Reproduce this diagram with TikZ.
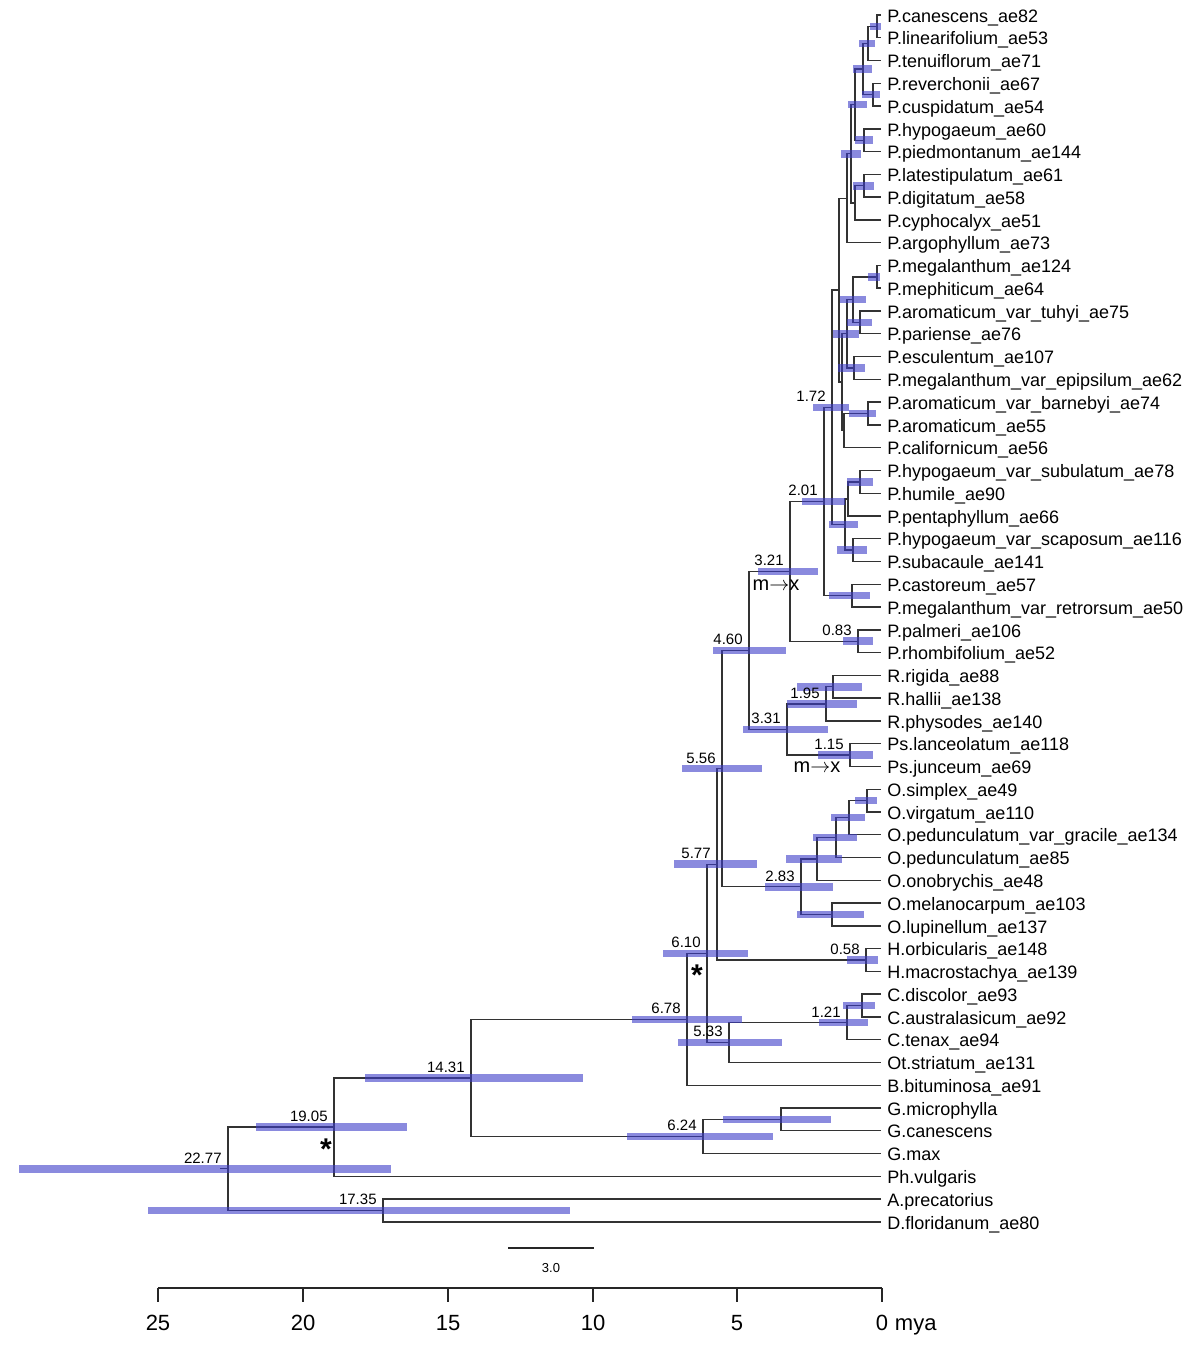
\documentclass[tikz,border=0pt]{standalone}
\usepackage{fontspec}
\setmainfont{Liberation Sans}
\usepackage{xcolor}
\usepackage{tikz}
\usetikzlibrary{positioning}
\definecolor{hpdblue}{RGB}{60,60,200}

\begin{document}
\begin{tikzpicture}
	[x=0.5pt, y=-0.5pt,
	 branch/.style = {draw=black!80, line width=0.7pt},
	 hpdbar/.style = {draw=hpdblue, opacity=0.6, line width=3.8pt},
	 tip/.style = {anchor=west, inner xsep=3pt, inner ysep=0pt, text height=0.72em, text depth=0pt, font=\fontsize{9}{10}\selectfont},
	 age/.style = {anchor=south east, inner sep=0pt, xshift=-3pt, yshift=2.5pt, font=\fontsize{7.5}{8}\selectfont},
	 mtox/.style = {inner sep=0pt, font=\fontsize{10}{11}\selectfont},
	 sigstar/.style = {anchor=base, inner sep=0pt, font=\fontsize{15}{16}\selectfont\bfseries},
	 axisline/.style = {draw=black!85, line width=1.2pt},
	 axislabel/.style = {inner sep=0pt, font=\fontsize{11}{12}\selectfont}]
	\useasboundingbox (0,0) rectangle (1200,1363);

	% tips
	\node[tip] (t1) at (881,15.0) {P.canescens\_ae82};
	\node[tip] (t2) at (881,37.8) {P.linearifolium\_ae53};
	\node[tip] (t3) at (881,60.5) {P.tenuiflorum\_ae71};
	\node[tip] (t4) at (881,83.3) {P.reverchonii\_ae67};
	\node[tip] (t5) at (881,106.1) {P.cuspidatum\_ae54};
	\node[tip] (t6) at (881,128.9) {P.hypogaeum\_ae60};
	\node[tip] (t7) at (881,151.6) {P.piedmontanum\_ae144};
	\node[tip] (t8) at (881,174.4) {P.latestipulatum\_ae61};
	\node[tip] (t9) at (881,197.2) {P.digitatum\_ae58};
	\node[tip] (t10) at (881,219.9) {P.cyphocalyx\_ae51};
	\node[tip] (t11) at (881,242.7) {P.argophyllum\_ae73};
	\node[tip] (t12) at (881,265.5) {P.megalanthum\_ae124};
	\node[tip] (t13) at (881,288.2) {P.mephiticum\_ae64};
	\node[tip] (t14) at (881,311.0) {P.aromaticum\_var\_tuhyi\_ae75};
	\node[tip] (t15) at (881,333.8) {P.pariense\_ae76};
	\node[tip] (t16) at (881,356.6) {P.esculentum\_ae107};
	\node[tip] (t17) at (881,379.3) {P.megalanthum\_var\_epipsilum\_ae62};
	\node[tip] (t18) at (881,402.1) {P.aromaticum\_var\_barnebyi\_ae74};
	\node[tip] (t19) at (881,424.9) {P.aromaticum\_ae55};
	\node[tip] (t20) at (881,447.6) {P.californicum\_ae56};
	\node[tip] (t21) at (881,470.4) {P.hypogaeum\_var\_subulatum\_ae78};
	\node[tip] (t22) at (881,493.2) {P.humile\_ae90};
	\node[tip] (t23) at (881,516.0) {P.pentaphyllum\_ae66};
	\node[tip] (t24) at (881,538.7) {P.hypogaeum\_var\_scaposum\_ae116};
	\node[tip] (t25) at (881,561.5) {P.subacaule\_ae141};
	\node[tip] (t26) at (881,584.3) {P.castoreum\_ae57};
	\node[tip] (t27) at (881,607.0) {P.megalanthum\_var\_retrorsum\_ae50};
	\node[tip] (t28) at (881,629.8) {P.palmeri\_ae106};
	\node[tip] (t29) at (881,652.6) {P.rhombifolium\_ae52};
	\node[tip] (t30) at (881,675.3) {R.rigida\_ae88};
	\node[tip] (t31) at (881,698.1) {R.hallii\_ae138};
	\node[tip] (t32) at (881,720.9) {R.physodes\_ae140};
	\node[tip] (t33) at (881,743.6) {Ps.lanceolatum\_ae118};
	\node[tip] (t34) at (881,766.4) {Ps.junceum\_ae69};
	\node[tip] (t35) at (881,789.2) {O.simplex\_ae49};
	\node[tip] (t36) at (881,812.0) {O.virgatum\_ae110};
	\node[tip] (t37) at (881,834.7) {O.pedunculatum\_var\_gracile\_ae134};
	\node[tip] (t38) at (881,857.5) {O.pedunculatum\_ae85};
	\node[tip] (t39) at (881,880.3) {O.onobrychis\_ae48};
	\node[tip] (t40) at (881,903.0) {O.melanocarpum\_ae103};
	\node[tip] (t41) at (881,925.8) {O.lupinellum\_ae137};
	\node[tip] (t42) at (881,948.6) {H.orbicularis\_ae148};
	\node[tip] (t43) at (881,971.3) {H.macrostachya\_ae139};
	\node[tip] (t44) at (881,994.1) {C.discolor\_ae93};
	\node[tip] (t45) at (881,1016.9) {C.australasicum\_ae92};
	\node[tip] (t46) at (881,1039.7) {C.tenax\_ae94};
	\node[tip] (t47) at (881,1062.4) {Ot.striatum\_ae131};
	\node[tip] (t48) at (881,1085.2) {B.bituminosa\_ae91};
	\node[tip] (t49) at (881,1108.0) {G.microphylla};
	\node[tip] (t50) at (881,1130.7) {G.canescens};
	\node[tip] (t51) at (881,1153.5) {G.max};
	\node[tip] (t52) at (881,1176.3) {Ph.vulgaris};
	\node[tip] (t53) at (881,1199.0) {A.precatorius};
	\node[tip] (t54) at (881,1221.8) {D.floridanum\_ae80};

	% internal nodes
	\coordinate (n1to2) at (877,26.4);
	\coordinate (n1to3) at (868,43.45);
	\coordinate (n4to5) at (873,94.7);
	\coordinate (n1to5) at (863,69.1);
	\coordinate (n6to7) at (864,140.25);
	\coordinate (n1to7) at (855,104.7);
	\coordinate (n8to9) at (864,185.8);
	\coordinate (n8to10) at (855,202.85);
	\coordinate (n1to10) at (851,153.8);
	\coordinate (n1to11) at (847,198.25);
	\coordinate (n12to13) at (877,276.85);
	\coordinate (n14to15) at (860,322.4);
	\coordinate (n12to15) at (853,299.6);
	\coordinate (n16to17) at (854,367.95);
	\coordinate (n12to17) at (847,333.8);
	\coordinate (n18to19) at (868,413.5);
	\coordinate (n18to20) at (844,430.55);
	\coordinate (n12to20) at (842,382.2);
	\coordinate (n1to20) at (839,290.2);
	\coordinate (n21to22) at (860,481.8);
	\coordinate (n21to23) at (848,498.9);
	\coordinate (n24to25) at (853,550.1);
	\coordinate (n21to25) at (845,524.5);
	\coordinate (d172) at (832,407.35);
	\coordinate (n26to27) at (852,595.65);
	\coordinate (d201) at (824,501.5);
	\coordinate (d083) at (858,641.2);
	\coordinate (d321) at (790,571.35);
	\coordinate (n30to31) at (833,686.7);
	\coordinate (d195) at (826,703.8);
	\coordinate (d115) at (850,755);
	\coordinate (d331) at (787,729.4);
	\coordinate (d460) at (749,650.4);
	\coordinate (n35to36) at (867,800.6);
	\coordinate (n35to37) at (849,817.65);
	\coordinate (n35to38) at (836,837.6);
	\coordinate (n35to39) at (817,858.95);
	\coordinate (n40to41) at (832,914.4);
	\coordinate (d283) at (801,886.7);
	\coordinate (d556) at (722,768.55);
	\coordinate (d058) at (866,959.95);
	\coordinate (d577) at (717,864.25);
	\coordinate (n44to45) at (862,1005.5);
	\coordinate (d121) at (847,1022.6);
	\coordinate (d533) at (729,1042.5);
	\coordinate (d610) at (707,953.4);
	\coordinate (d678) at (687,1019.3);
	\coordinate (n49to50) at (781,1119.35);
	\coordinate (d624) at (703,1136.4);
	\coordinate (d1431) at (471,1077.85);
	\coordinate (d1905) at (334,1127.1);
	\coordinate (d1735) at (383,1210.4);
	\coordinate (d2277) at (228,1168.75);
	\coordinate (rootstem) at (220,1168.75);

	% branches
	\draw[branch] (t1.west) -| (n1to2) |- (t2.west);
	\draw[branch] (n1to2) -| (n1to3) |- (t3.west);
	\draw[branch] (t4.west) -| (n4to5) |- (t5.west);
	\draw[branch] (n1to3) -| (n1to5) |- (n4to5);
	\draw[branch] (t6.west) -| (n6to7) |- (t7.west);
	\draw[branch] (n1to5) -| (n1to7) |- (n6to7);
	\draw[branch] (t8.west) -| (n8to9) |- (t9.west);
	\draw[branch] (n8to9) -| (n8to10) |- (t10.west);
	\draw[branch] (n1to7) -| (n1to10) |- (n8to10);
	\draw[branch] (n1to10) -| (n1to11) |- (t11.west);
	\draw[branch] (t12.west) -| (n12to13) |- (t13.west);
	\draw[branch] (t14.west) -| (n14to15) |- (t15.west);
	\draw[branch] (n12to13) -| (n12to15) |- (n14to15);
	\draw[branch] (t16.west) -| (n16to17) |- (t17.west);
	\draw[branch] (n12to15) -| (n12to17) |- (n16to17);
	\draw[branch] (t18.west) -| (n18to19) |- (t19.west);
	\draw[branch] (n18to19) -| (n18to20) |- (t20.west);
	\draw[branch] (n12to17) -| (n12to20) |- (n18to20);
	\draw[branch] (n1to11) -| (n1to20) |- (n12to20);
	\draw[branch] (t21.west) -| (n21to22) |- (t22.west);
	\draw[branch] (n21to22) -| (n21to23) |- (t23.west);
	\draw[branch] (t24.west) -| (n24to25) |- (t25.west);
	\draw[branch] (n21to23) -| (n21to25) |- (n24to25);
	\draw[branch] (n1to20) -| (d172) |- (n21to25);
	\draw[branch] (t26.west) -| (n26to27) |- (t27.west);
	\draw[branch] (d172) -| (d201) |- (n26to27);
	\draw[branch] (t28.west) -| (d083) |- (t29.west);
	\draw[branch] (d201) -| (d321) |- (d083);
	\draw[branch] (t30.west) -| (n30to31) |- (t31.west);
	\draw[branch] (n30to31) -| (d195) |- (t32.west);
	\draw[branch] (t33.west) -| (d115) |- (t34.west);
	\draw[branch] (d195) -| (d331) |- (d115);
	\draw[branch] (d321) -| (d460) |- (d331);
	\draw[branch] (t35.west) -| (n35to36) |- (t36.west);
	\draw[branch] (n35to36) -| (n35to37) |- (t37.west);
	\draw[branch] (n35to37) -| (n35to38) |- (t38.west);
	\draw[branch] (n35to38) -| (n35to39) |- (t39.west);
	\draw[branch] (t40.west) -| (n40to41) |- (t41.west);
	\draw[branch] (n35to39) -| (d283) |- (n40to41);
	\draw[branch] (d460) -| (d556) |- (d283);
	\draw[branch] (t42.west) -| (d058) |- (t43.west);
	\draw[branch] (d556) -| (d577) |- (d058);
	\draw[branch] (t44.west) -| (n44to45) |- (t45.west);
	\draw[branch] (n44to45) -| (d121) |- (t46.west);
	\draw[branch] (d121) -| (d533) |- (t47.west);
	\draw[branch] (d577) -| (d610) |- (d533);
	\draw[branch] (d610) -| (d678) |- (t48.west);
	\draw[branch] (t49.west) -| (n49to50) |- (t50.west);
	\draw[branch] (n49to50) -| (d624) |- (t51.west);
	\draw[branch] (d678) -| (d1431) |- (d624);
	\draw[branch] (d1431) -| (d1905) |- (t52.west);
	\draw[branch] (t53.west) -| (d1735) |- (t54.west);
	\draw[branch] (d1905) -| (d2277) |- (d1735);
	\draw[branch] (rootstem) -- (d2277);

	% 95% HPD bars
	\draw[hpdbar] (870,26.4) -- (881,26.4);
	\draw[hpdbar] (859,43.45) -- (875,43.45);
	\draw[hpdbar] (862,94.7) -- (880,94.7);
	\draw[hpdbar] (853,69.1) -- (872,69.1);
	\draw[hpdbar] (855,140.25) -- (873,140.25);
	\draw[hpdbar] (848,104.7) -- (867,104.7);
	\draw[hpdbar] (853,185.8) -- (874,185.8);
	\draw[hpdbar] (841,153.8) -- (861,153.8);
	\draw[hpdbar] (868,276.85) -- (880,276.85);
	\draw[hpdbar] (847,322.4) -- (872,322.4);
	\draw[hpdbar] (840,299.6) -- (866,299.6);
	\draw[hpdbar] (838,367.95) -- (865,367.95);
	\draw[hpdbar] (833,333.8) -- (859,333.8);
	\draw[hpdbar] (849,413.5) -- (876,413.5);
	\draw[hpdbar] (813,407.35) -- (849,407.35);
	\draw[hpdbar] (847,481.8) -- (873,481.8);
	\draw[hpdbar] (837,550.1) -- (867,550.1);
	\draw[hpdbar] (829,524.5) -- (858,524.5);
	\draw[hpdbar] (802,501.5) -- (845,501.5);
	\draw[hpdbar] (829,595.65) -- (870,595.65);
	\draw[hpdbar] (758,571.35) -- (818,571.35);
	\draw[hpdbar] (843,641.2) -- (873,641.2);
	\draw[hpdbar] (713,650.4) -- (786,650.4);
	\draw[hpdbar] (797,686.7) -- (862,686.7);
	\draw[hpdbar] (787,703.8) -- (857,703.8);
	\draw[hpdbar] (743,729.4) -- (828,729.4);
	\draw[hpdbar] (818,755) -- (873,755);
	\draw[hpdbar] (682,768.55) -- (762,768.55);
	\draw[hpdbar] (855,800.6) -- (877,800.6);
	\draw[hpdbar] (831,817.65) -- (865,817.65);
	\draw[hpdbar] (813,837.6) -- (857,837.6);
	\draw[hpdbar] (786,858.95) -- (842,858.95);
	\draw[hpdbar] (797,914.4) -- (864,914.4);
	\draw[hpdbar] (765,886.7) -- (833,886.7);
	\draw[hpdbar] (674,864.25) -- (757,864.25);
	\draw[hpdbar] (847,959.95) -- (878,959.95);
	\draw[hpdbar] (663,953.4) -- (748,953.4);
	\draw[hpdbar] (843,1005.5) -- (875,1005.5);
	\draw[hpdbar] (819,1022.6) -- (868,1022.6);
	\draw[hpdbar] (678,1042.5) -- (782,1042.5);
	\draw[hpdbar] (632,1019.3) -- (742,1019.3);
	\draw[hpdbar] (723,1119.35) -- (831,1119.35);
	\draw[hpdbar] (627,1136.4) -- (773,1136.4);
	\draw[hpdbar] (365,1077.85) -- (583,1077.85);
	\draw[hpdbar] (256,1127.1) -- (407,1127.1);
	\draw[hpdbar] (19,1168.75) -- (391,1168.75);
	\draw[hpdbar] (148,1210.4) -- (570,1210.4);

	% node ages
	\node[age] (l172) at (d172) {1.72};
	\node[age] (l201) at (d201) {2.01};
	\node[age] (l321) at (d321) {3.21};
	\node[age] (l083) at (d083) {0.83};
	\node[age] (l460) at (d460) {4.60};
	\node[age] (l195) at (d195) {1.95};
	\node[age] (l331) at (d331) {3.31};
	\node[age] (l115) at (d115) {1.15};
	\node[age] (l556) at (d556) {5.56};
	\node[age] (l577) at (d577) {5.77};
	\node[age] (l283) at (d283) {2.83};
	\node[age] (l058) at (d058) {0.58};
	\node[age] (l610) at (d610) {6.10};
	\node[age] (l678) at (d678) {6.78};
	\node[age] (l121) at (d121) {1.21};
	\node[age] (l533) at (d533) {5.33};
	\node[age] (l624) at (d624) {6.24};
	\node[age] (l1431) at (d1431) {14.31};
	\node[age] (l1905) at (d1905) {19.05};
	\node[age] (l2277) at (d2277) {22.77};
	\node[age] (l1735) at (d1735) {17.35};

	% character shifts and supported nodes
	\node[mtox] (mx1) at ([xshift=-7pt, yshift=-6.8pt]d321) {m$\rightarrow$x};
	\node[mtox] (mx2) at ([xshift=-16.5pt, yshift=-6pt]d115) {m$\rightarrow$x};
	\node[sigstar] (st1) at ([xshift=-4pt, yshift=-16pt]d1905) {*};
	\node[sigstar] (st2) at ([xshift=-5pt, yshift=-15.8pt]d610) {*};

	% scale bar
	\coordinate (sb1) at (508,1248);
	\coordinate (sb2) at (594,1248);
	\draw[draw=black!85, line width=0.6pt] (sb1) -- (sb2);
	\node[inner sep=0pt, font=\fontsize{6.5}{7}\selectfont] (sblabel) at (551,1268) {3.0};

	% time axis
	\coordinate (ax25) at (158,1288);
	\coordinate (ax20) at (303,1288);
	\coordinate (ax15) at (448,1288);
	\coordinate (ax10) at (593,1288);
	\coordinate (ax5) at (737,1288);
	\coordinate (ax0) at (882,1288);
	\draw[axisline] (ax25) -- (ax0);
	\draw[axisline] (ax25) -- ++(0,14);
	\draw[axisline] (ax20) -- ++(0,14);
	\draw[axisline] (ax15) -- ++(0,14);
	\draw[axisline] (ax10) -- ++(0,14);
	\draw[axisline] (ax5) -- ++(0,14);
	\draw[axisline] (ax0) -- ++(0,14);
	\node[axislabel] (l25) at (158,1323) {25};
	\node[axislabel] (l20) at (303,1323) {20};
	\node[axislabel] (l15) at (448,1323) {15};
	\node[axislabel] (l10) at (593,1323) {10};
	\node[axislabel] (l5) at (737,1323) {5};
	\node[axislabel] (l0) at (882,1323) {0};
	\node[axislabel, anchor=base west, xshift=3pt] (lmya) at (l0.base east) {mya};
\end{tikzpicture}
\end{document}
